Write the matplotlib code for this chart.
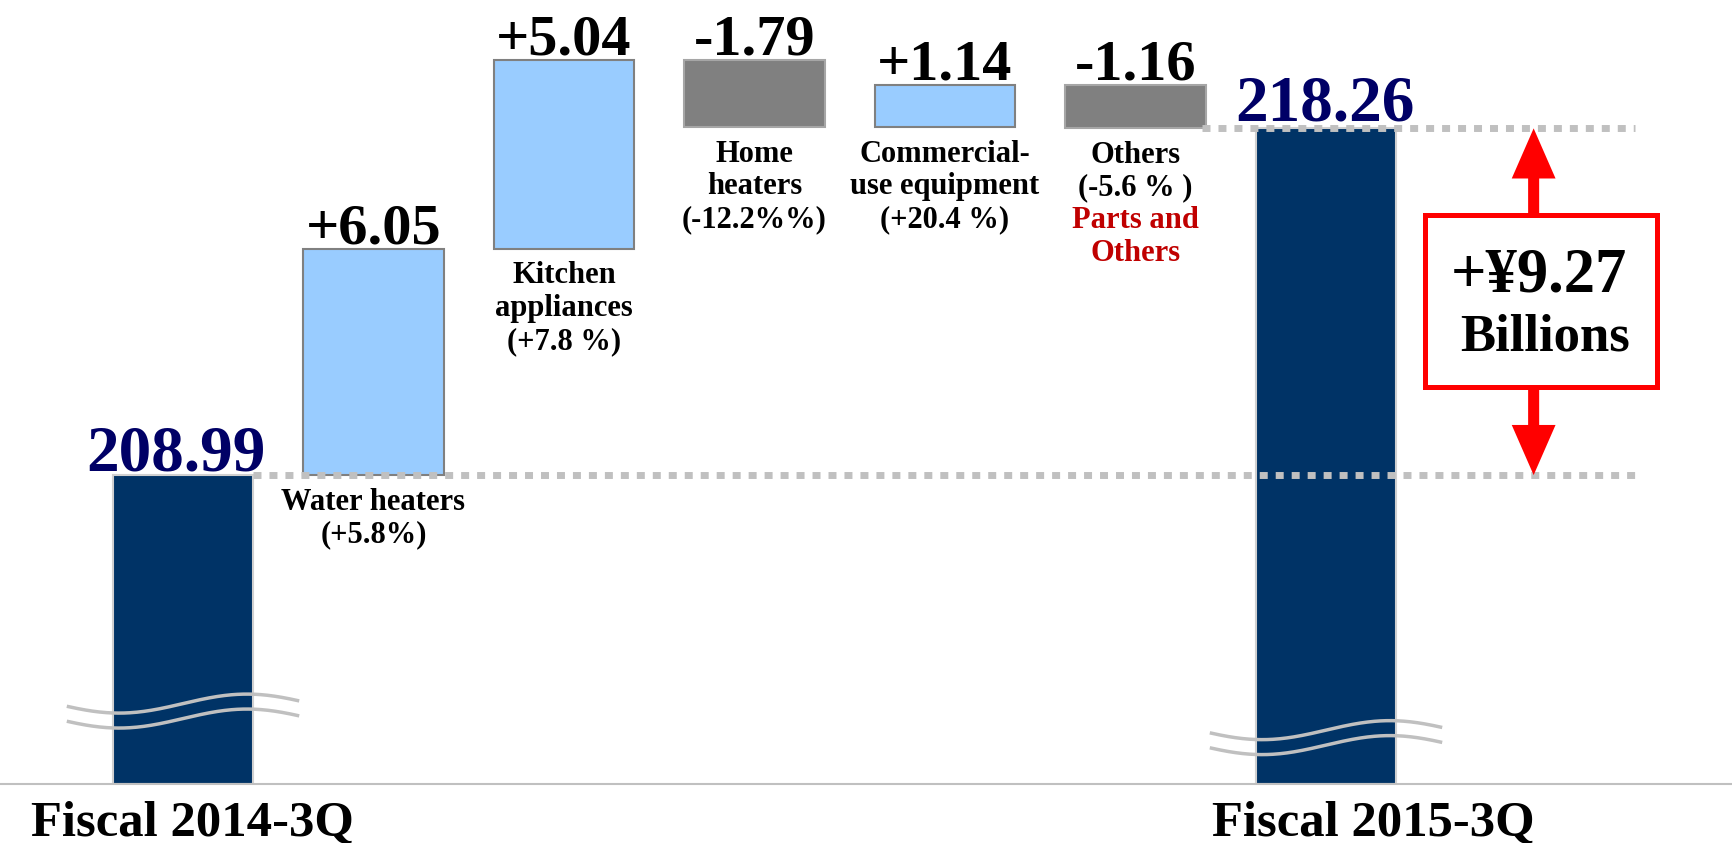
import numpy as np
import matplotlib
matplotlib.use("Agg")
import matplotlib.pyplot as plt
from matplotlib.patches import FancyArrow, Rectangle
from matplotlib.transforms import blended_transform_factory

# ---- data -------------------------------------------------------------
start_label = "Fiscal 2014-3Q"
end_label = "Fiscal 2015-3Q"
start_total = 208.99
end_total = 218.26
segments = ["Water heaters", "Kitchen\nappliances", "Home\nheaters",
            "Commercial-\nuse equipment", "Others"]
changes = [6.05, 5.04, -1.79, 1.14, -1.16]
growth = ["(+5.8%)", "(+7.8 %)", "(-12.2%%)", "(+20.4 %)", "(-5.6 % )"]
group_note = "Parts and\nOthers"
unit_word = "Billions"

# ---- style ------------------------------------------------------------
NAVY = "#003366"
NAVY_TXT = "#000066"
UP = "#99ccff"
DOWN = "#808080"
GRID = "#c0c0c0"
RED = "#ff0000"
FONT = "Liberation Serif"

plt.rcParams["font.family"] = FONT
plt.rcParams["font.weight"] = "bold"

fig = plt.figure(figsize=(17.32, 8.43), dpi=100)
ax = fig.add_axes([0, 59 / 843, 1, 784 / 843])

floor = 200.73            # broken-axis floor for the total bars
ax.set_ylim(floor, floor + 784 / 37.4)
ax.set_xlim(-183 / 190.5, (1732 - 183) / 190.5)
ax.set_xticks([])
ax.set_yticks([])
for s in ("left", "right", "top"):
    ax.spines[s].set_visible(False)
ax.spines["bottom"].set_color(GRID)
ax.spines["bottom"].set_linewidth(1.5)

w = 0.74
n = len(changes)
x_start, x_end = 0, n + 1

# total bars
ax.bar(x_start, start_total - floor, bottom=floor, width=w, color=NAVY,
       edgecolor="#d0d0d0", linewidth=1.5, zorder=2)
ax.bar(x_end, end_total - floor, bottom=floor, width=w, color=NAVY,
       edgecolor="#d0d0d0", linewidth=1.5, zorder=2)

val_kw = dict(ha="center", va="baseline", textcoords="offset points",
              fontweight="bold", family=FONT)
ax.annotate(f"{start_total:.2f}", (x_start, start_total), xytext=(-5, 3),
            fontsize=47, color=NAVY_TXT, **val_kw)
ax.annotate(f"{end_total:.2f}", (x_end, end_total), xytext=(-1, 6),
            fontsize=47, color=NAVY_TXT, **val_kw)

# floating change bars
lab_size = 22
lab_ls = 1.17
lab_off = -9
line_pt = 23.5
level = start_total
for i, (name, ch, pct) in enumerate(zip(segments, changes, growth)):
    x = i + 1
    lo = min(level, level + ch)
    hi = max(level, level + ch)
    if ch >= 0:
        ax.bar(x, ch, bottom=level, width=w, color=UP, edgecolor="#808080",
               linewidth=1.5, zorder=2)
    else:
        ax.bar(x, -ch, bottom=level + ch, width=w, color=DOWN,
               edgecolor="#a6a6a6", linewidth=1.5, zorder=2)
    ax.annotate(f"{ch:+.2f}", (x, hi), xytext=(0, 4), fontsize=42,
                color="black", **val_kw)
    ax.annotate(f"{name}\n{pct}", (x, lo), xytext=(0, lab_off),
                textcoords="offset points", ha="center", va="top",
                multialignment="center", linespacing=lab_ls,
                fontsize=lab_size, fontweight="bold", color="black")
    if i == n - 1:
        ax.annotate(group_note, (x, lo), xytext=(0, lab_off - 2 * line_pt),
                    textcoords="offset points", ha="center", va="top",
                    multialignment="center", linespacing=lab_ls,
                    fontsize=lab_size, fontweight="bold", color="#c00000")
    level += ch

# dotted guide lines at the two totals
dot = dict(color=GRID, linewidth=5, linestyle=(0, (1.15, 1.15)), zorder=3)
ax.plot([x_start + w / 2, 7.62], [start_total, start_total], **dot)
ax.plot([n + w / 2 - 0.02, 7.62], [end_total, end_total], **dot)

# wavy axis-break marks on the total bars
t = np.linspace(0, 1, 200)
wave = np.sin(2 * np.pi * (t + 0.05) / 1.1)
for xc, yc in ((x_start, floor + 2.15), (x_end, floor + 1.44)):
    xs = xc - 0.61 + 1.22 * t
    for off in (0.0, 0.40):
        ax.plot(xs, yc - off - 0.254 * wave, color=GRID, linewidth=2.5,
                solid_capstyle="butt", zorder=4)

# difference arrow and callout box
ax_x = 7.09
mid = (start_total + end_total) / 2
for tip in (end_total, start_total):
    ax.add_patch(FancyArrow(ax_x, mid, 0, tip - mid, width=0.058,
                            head_width=0.23, head_length=1.34,
                            length_includes_head=True, color=RED,
                            linewidth=0, zorder=5))
bx0, bx1 = 6.52, 7.74
by0, by1 = 211.34, 215.94
ax.add_patch(Rectangle((bx0, by0), bx1 - bx0, by1 - by0, facecolor="white",
                       edgecolor=RED, linewidth=3.6, zorder=6))
diff = end_total - start_total
ax.text(7.12, 214.31, f"+¥{diff:.2f}", ha="center", va="center",
        fontsize=45, fontweight="bold", zorder=7)
ax.text(7.15, 212.68, unit_word, ha="center", va="center",
        fontsize=38, fontweight="bold", zorder=7)

# period labels under the axis
tr = blended_transform_factory(ax.transData, ax.transAxes)
ax.text(0.05, -0.05, start_label, transform=tr, ha="center", va="center",
        fontsize=36.5, fontweight="bold", clip_on=False)
ax.text(6.25, -0.05, end_label, transform=tr, ha="center", va="center",
        fontsize=36.5, fontweight="bold", clip_on=False)

fig.savefig("out.png", dpi=100)
